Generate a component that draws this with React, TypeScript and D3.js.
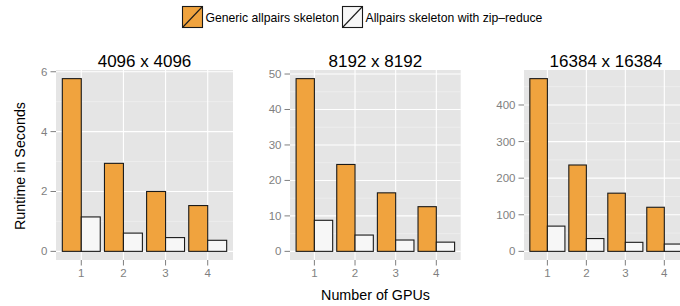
import React, { useEffect, useRef } from "react";
import * as d3 from "d3";

// GPU counts on the x axis
const gpus = ["1", "2", "3", "4"];
// one panel per matrix size
const titles = ["4096 x 4096", "8192 x 8192", "16384 x 16384"];
const genericRuntime = [
  [5.77, 2.94, 2.0, 1.53],
  [48.7, 24.5, 16.5, 12.6],
  [472, 236, 159, 120.5],
];
const zipReduceRuntime = [
  [1.15, 0.61, 0.46, 0.37],
  [8.76, 4.6, 3.2, 2.6],
  [69, 35, 24.7, 20],
];
const yTickStep = [2, 10, 100];
const seriesNames = ["Generic allpairs skeleton", "Allpairs skeleton with zip\u2013reduce"];
const seriesColors = ["#f0a33e", "#f7f7f7"];

const font = "'Liberation Sans', Arial, Helvetica, sans-serif";

export default function App() {
  const ref = useRef<SVGSVGElement>(null);

  useEffect(() => {
    const svg = d3.select(ref.current);
    svg.selectAll("*").remove();

    const top = 70, bottom = 260;
    const panelX = [[56, 233], [290, 460.7], [524, 687.7]];

    titles.forEach((title, i) => {
      const [x0, x1] = panelX[i];
      const max = d3.max(genericRuntime[i].concat(zipReduceRuntime[i])) as number;
      const y = d3.scaleLinear().domain([-0.05 * max, 1.05 * max]).range([bottom, top]);
      const x = d3.scalePoint<string>().domain(gpus).range([x0, x1]).padding(0.6);
      const step = x.step();
      const g = svg.append("g");

      g.append("rect")
        .attr("x", x0).attr("y", top)
        .attr("width", x1 - x0).attr("height", bottom - top)
        .attr("fill", "#e5e5e5");

      const st = yTickStep[i];
      const ticks = d3.range(0, 1.05 * max + 1e-9, st);
      const minor = d3.range(st / 2, 1.05 * max, st);
      g.selectAll(".minor").data(minor).enter().append("line")
        .attr("x1", x0).attr("x2", x1)
        .attr("y1", (d) => y(d)).attr("y2", (d) => y(d))
        .attr("stroke", "#f2f2f2").attr("stroke-width", 0.6);
      g.selectAll(".major").data(ticks).enter().append("line")
        .attr("x1", x0).attr("x2", x1)
        .attr("y1", (d) => y(d)).attr("y2", (d) => y(d))
        .attr("stroke", "#ffffff").attr("stroke-width", 1.1);
      g.selectAll(".vmajor").data(gpus).enter().append("line")
        .attr("x1", (d) => x(d)!).attr("x2", (d) => x(d)!)
        .attr("y1", top).attr("y2", bottom)
        .attr("stroke", "#ffffff").attr("stroke-width", 1.1);

      // bars, dodged
      const bw = step * 0.45;
      [genericRuntime[i], zipReduceRuntime[i]].forEach((vals, s) => {
        g.selectAll(".bar" + s).data(vals).enter().append("rect")
          .attr("x", (d, k) => x(gpus[k])! - bw + s * bw)
          .attr("y", (d) => y(d))
          .attr("width", bw)
          .attr("height", (d) => y(0) - y(d))
          .attr("fill", seriesColors[s])
          .attr("stroke", "#1a1a1a")
          .attr("stroke-width", 1.1);
      });

      // y axis
      g.selectAll(".yt").data(ticks).enter().append("line")
        .attr("x1", x0 - 5.5).attr("x2", x0)
        .attr("y1", (d) => y(d)).attr("y2", (d) => y(d))
        .attr("stroke", "#7f7f7f").attr("stroke-width", 1);
      g.selectAll(".yl").data(ticks).enter().append("text")
        .attr("x", x0 - 8.5).attr("y", (d) => y(d) + 4)
        .attr("text-anchor", "end")
        .attr("font-family", font).attr("font-size", 11.5)
        .attr("fill", "#7f7f7f")
        .text((d) => d3.format("d")(d));

      // x axis
      g.selectAll(".xt").data(gpus).enter().append("line")
        .attr("x1", (d) => x(d)!).attr("x2", (d) => x(d)!)
        .attr("y1", bottom).attr("y2", bottom + 5.5)
        .attr("stroke", "#7f7f7f").attr("stroke-width", 1);
      g.selectAll(".xl").data(gpus).enter().append("text")
        .attr("x", (d) => x(d)!).attr("y", 277)
        .attr("text-anchor", "middle")
        .attr("font-family", font).attr("font-size", 11.5)
        .attr("fill", "#7f7f7f")
        .text((d) => d);

      g.append("text")
        .attr("x", (x0 + x1) / 2).attr("y", 66.5)
        .attr("text-anchor", "middle")
        .attr("font-family", font).attr("font-size", 17)
        .attr("fill", "#000")
        .text(title);
    });

    svg.append("text")
      .attr("x", 375.5).attr("y", 300)
      .attr("text-anchor", "middle")
      .attr("font-family", font).attr("font-size", 14.3)
      .text("Number of GPUs");
    svg.append("text")
      .attr("transform", "translate(25,166) rotate(-90)")
      .attr("text-anchor", "middle")
      .attr("font-family", font).attr("font-size", 14.3)
      .text("Runtime in Seconds");

    // legend
    const keyX = [182, 342];
    seriesNames.forEach((name, s) => {
      const lg = svg.append("g").attr("transform", `translate(${keyX[s]},6)`);
      lg.append("rect")
        .attr("x", 0.5).attr("y", 0.5).attr("width", 20).attr("height", 21)
        .attr("fill", seriesColors[s]).attr("stroke", "#1a1a1a").attr("stroke-width", 1.1);
      lg.append("line")
        .attr("x1", 0.5).attr("y1", 21.5).attr("x2", 20.5).attr("y2", 0.5)
        .attr("stroke", "#1a1a1a").attr("stroke-width", 1.1);
      lg.append("text")
        .attr("x", 23.5).attr("y", 15.5)
        .attr("font-family", font).attr("font-size", 12.2)
        .text(name);
    });
  }, []);

  return (
    <svg
      ref={ref}
      width={680}
      height={306}
      style={{ position: "absolute", left: 0, top: 0, background: "#fff" }}
    />
  );
}
